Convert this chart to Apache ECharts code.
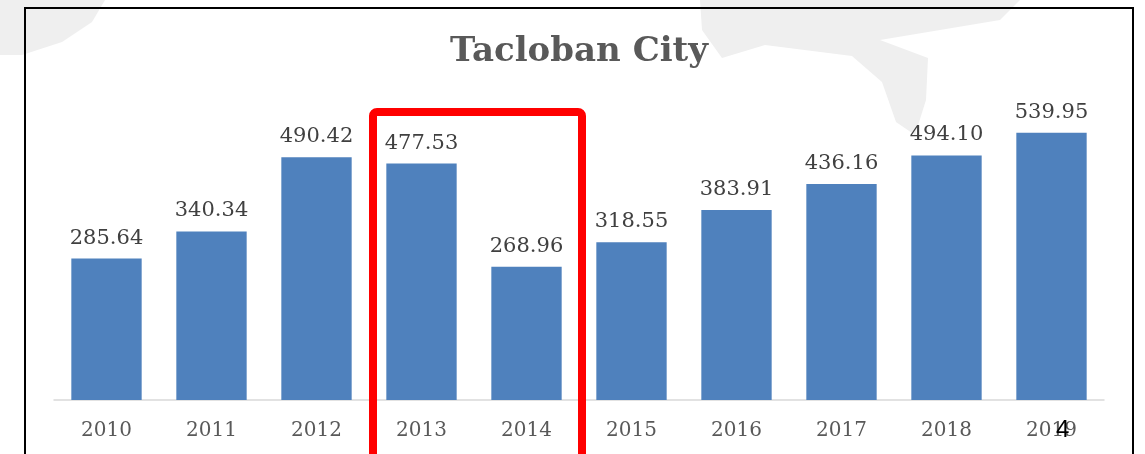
<!DOCTYPE html>
<html>
<head>
<meta charset="utf-8">
<script src="https://cdn.jsdelivr.net/npm/echarts@6/dist/echarts.min.js"></script>
<style>
  html, body { margin: 0; padding: 0; background: #fff; }
  #main { width: 1145px; height: 454px; }
</style>
</head>
<body>
<div id="main"></div>
<script>
var years = ['2010', '2011', '2012', '2013', '2014', '2015', '2016', '2017', '2018', '2019']
var values = [285.64, 340.34, 490.42, 477.53, 268.96, 318.55, 383.91, 436.16, 494.10, 539.95]

var myChart = echarts.init(document.getElementById('main'))
myChart.setOption({
  backgroundColor: '#fff',
  animation: false,
  title: {
    text: 'Tacloban City',
    left: 574,
    top: 30,
    textAlign: 'center',
    textStyle: {
      fontFamily: 'DejaVu Serif',
      fontWeight: 'bold',
      fontSize: 34,
      color: '#595959'
    }
  },
  grid: {
    left: 54,
    right: 41,
    top: 103,
    bottom: 54
  },
  xAxis: {
    type: 'category',
    data: years,
    axisLine: { lineStyle: { color: '#d9d9d9', width: 1.5 } },
    axisTick: { show: false },
    axisLabel: {
      margin: 21,
      fontFamily: 'DejaVu Serif',
      fontSize: 20,
      color: '#595959'
    }
  },
  yAxis: {
    type: 'value',
    min: 0,
    max: 600,
    show: false,
    splitLine: { show: false }
  },
  series: [{
    type: 'bar',
    data: values,
    barCategoryGap: '33%',
    itemStyle: { color: '#4F81BD' },
    label: {
      show: true,
      position: 'top',
      distance: 10,
      formatter: function (p) { return p.value.toFixed(2) },
      fontFamily: 'DejaVu Serif',
      fontSize: 21,
      color: '#404040'
    }
  }],
  graphic: [
    // faint map watermark
    {
      type: 'polygon', z: -10, silent: true,
      shape: { points: [[0, 0], [105, 0], [92, 22], [62, 42], [22, 55], [0, 55]] },
      style: { fill: '#efefef' }
    },
    {
      type: 'polygon', z: -10, silent: true,
      shape: { points: [[700, 0], [1020, 0], [1000, 20], [880, 40], [928, 58], [926, 100], [915, 135], [896, 122], [882, 82], [852, 56], [765, 45], [722, 58], [702, 30]] },
      style: { fill: '#efefef' }
    },
    // slide frame
    {
      type: 'rect', z: 100, silent: true,
      shape: { x: 25, y: 8, width: 1108, height: 460 },
      style: { fill: 'none', stroke: '#000', lineWidth: 2 }
    },
    // highlight box
    {
      type: 'rect', z: 100, silent: true,
      shape: { x: 373, y: 112, width: 209, height: 360, r: 4 },
      style: { fill: 'none', stroke: '#ff0000', lineWidth: 8 }
    },
    // page number
    {
      type: 'text', z: 100, silent: true,
      left: 1056, top: 418,
      style: { text: '4', fontFamily: 'Liberation Sans', fontSize: 24, fill: '#000' }
    }
  ]
})
</script>
</body>
</html>
